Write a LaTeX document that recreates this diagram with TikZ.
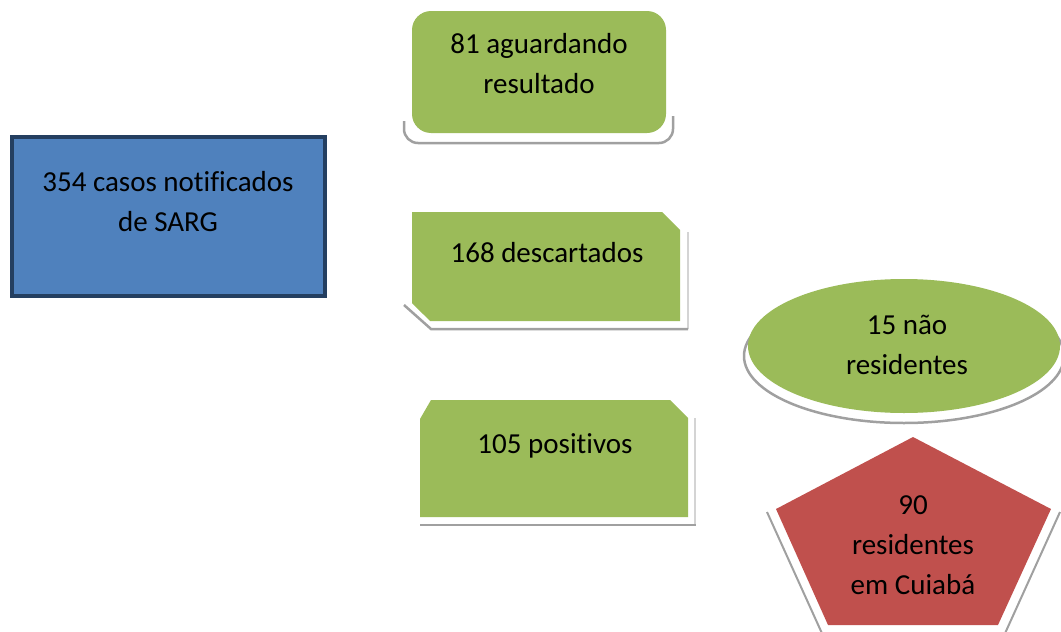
\documentclass[tikz,border=0pt]{standalone}
\usepackage{fontspec}
\setmainfont{Carlito}[Ligatures=NoCommon]
\definecolor{sgreen}{HTML}{9BBB59}
\definecolor{sblue}{HTML}{4F81BD}
\definecolor{sborder}{HTML}{243F60}
\definecolor{sred}{HTML}{C0504D}
\definecolor{sshadow}{HTML}{A0A0A0}
\begin{document}
\begin{tikzpicture}[x=1pt,y=-1pt,
  lbl/.style={font=\fontsize{29}{40}\selectfont, align=center, inner sep=0pt, text=black},
  shadowline/.style={draw=sshadow, line width=2.5pt},
  faintline/.style={draw=sshadow!45, line width=1.5pt},
  greenfill/.style={fill=sgreen, draw=none}]
\useasboundingbox (0,0) rectangle (1061,632);

% blue box
\draw[fill=sblue, draw=sborder, line width=4pt] (12,137) rectangle (325,296);
\node[lbl] (notif) at (168,203) {\strut 354 casos notificados\\\strut de SARG};

% 81 aguardando resultado
\draw[shadowline, rounded corners=14pt] (404,121) -- (404,143) -- (673,143) -- (673,116);
\fill[sgreen, rounded corners=19pt] (412,11) rectangle (666,133);
\node[lbl] (aguard) at (539,65) {\strut 81 aguardando\\\strut resultado};

% 168 descartados
\draw[faintline] (688,232) -- (688,329);
\draw[shadowline] (404,305) -- (431,329) -- (688,329);
\fill[sgreen] (412,212) -- (662,212) -- (680,230) -- (680,321) -- (430,321) -- (412,303) -- cycle;
\node[lbl] (desc) at (547,254) {\strut 168 descartados};

% 105 positivos
\draw[faintline] (695,418) -- (695,525);
\draw[shadowline] (420,525) -- (696,525);
\fill[sgreen] (431,400) -- (670,400) -- (688,418) -- (688,517) -- (420,517) -- (420,419) -- cycle;
\node[lbl] (posit) at (555,445) {\strut 105 positivos};

% 15 nao residentes
\draw[shadowline, fill=white] (904,356) ellipse [x radius=160, y radius=67];
\fill[sgreen] (904,346) ellipse [x radius=156, y radius=67];
\node[lbl] (naores) at (907,346) {\strut 15 não\\\strut residentes};

% 90 residentes em Cuiaba
\draw[draw=sshadow, line width=2pt] (767,512) -- (825,640);
\draw[draw=sshadow, line width=2pt] (1060,512) -- (1002,640);
\fill[sred] (913,437) -- (1051,509) -- (998,625) -- (828,625) -- (776,509) -- cycle;
\node[lbl] (cuiaba) at (913,546) {\strut 90\\\strut residentes\\\strut em Cuiabá};
\end{tikzpicture}
\end{document}
